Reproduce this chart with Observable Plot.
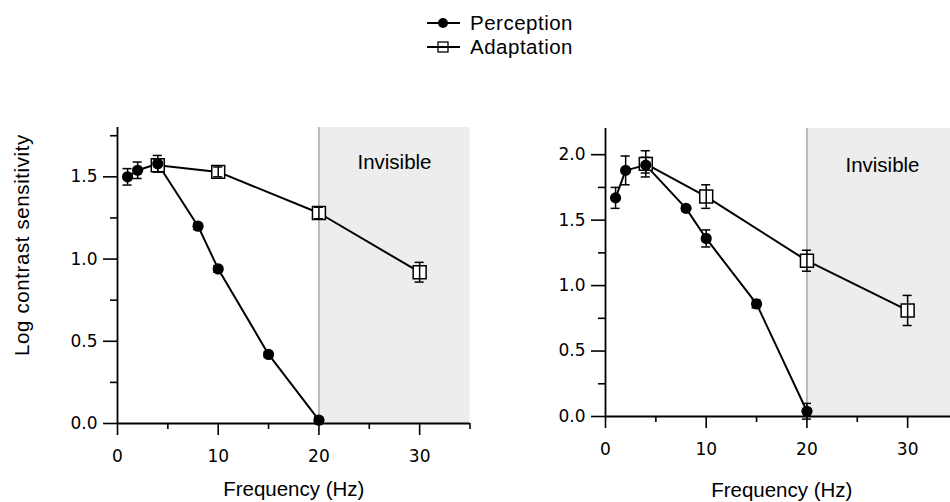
<!DOCTYPE html>
<html><head><meta charset="utf-8">
<script src="https://cdn.jsdelivr.net/npm/d3@7"></script>
<script src="https://cdn.jsdelivr.net/npm/@observablehq/plot@0.6"></script>
<style>
body{margin:0;background:#fff;}
#wrap{position:relative;width:950px;height:502px;overflow:hidden;background:#fff;font-family:"Liberation Sans",Arial,sans-serif;color:#000;}
#left{position:absolute;left:0;top:0;width:475px;}
#right{position:absolute;left:475px;top:0;width:490px;}
#wrap svg{max-width:none !important;}
#legend{position:absolute;left:0;top:0;}
#ylab{position:absolute;left:22px;top:245px;transform:translate(-50%,-50%) rotate(-90deg);white-space:nowrap;font-size:20.5px;letter-spacing:0.6px;}
</style></head>
<body><div id="wrap"><div id="left"></div><div id="right"></div><svg id="legend" width="950" height="70"></svg><div id="ylab">Log contrast sensitivity</div></div>
<script>
// ---- data ----
const seriesNames = ["Perception", "Adaptation"];
const freqP = [1, 2, 4, 8, 10, 15, 20];
const freqA = [4, 10, 20, 30];
const leftP    = [1.50, 1.54, 1.58, 1.20, 0.94, 0.42, 0.02];
const leftPErr = [0.05, 0.05, 0.05, 0.02, 0.02, 0.015, 0.02];
const leftA    = [1.57, 1.53, 1.28, 0.92];
const leftAErr = [0.04, 0.03, 0.035, 0.06];
const rightP    = [1.67, 1.88, 1.92, 1.59, 1.36, 0.86, 0.04];
const rightPErr = [0.08, 0.11, 0.06, 0.02, 0.065, 0.03, 0.06];
const rightA    = [1.93, 1.68, 1.19, 0.81];
const rightAErr = [0.10, 0.09, 0.08, 0.115];
const xMajor = [0, 10, 20, 30];
const xMinor = [5, 15, 25, 35];
const leftYMajor = [0, 0.5, 1.0, 1.5];
const leftYMinor = [0.25, 0.75, 1.25, 1.75];
const rightYMajor = [0, 0.5, 1.0, 1.5, 2.0];
const rightYMinor = [0.25, 0.75, 1.25, 1.75];
const shadeRegion = [{label: "Invisible", x1: 20, x2: 35}];
const xLabel = "Frequency (Hz)";

const capHalf = 0.45;
const TXT = "Liberation Sans";

function panel(o) {
  const perc = freqP.map((f, i) => ({f, v: o.P[i], e: o.PErr[i]}));
  const adap = freqA.map((f, i) => ({f, v: o.A[i], e: o.AErr[i]}));
  const bars = (data) => [
    Plot.ruleX(data, {x: "f", y1: d => d.v - d.e, y2: d => d.v + d.e, stroke: "#000", strokeWidth: 1.5}),
    Plot.ruleY(data, {y: d => d.v - d.e, x1: d => d.f - capHalf, x2: d => d.f + capHalf, stroke: "#000", strokeWidth: 1.5}),
    Plot.ruleY(data, {y: d => d.v + d.e, x1: d => d.f - capHalf, x2: d => d.f + capHalf, stroke: "#000", strokeWidth: 1.5})
  ];
  return Plot.plot({
    width: o.width, height: 502,
    marginLeft: o.ml, marginRight: o.mr, marginTop: o.mt, marginBottom: o.mb,
    x: {domain: [0, 35]},
    y: {domain: [0, o.yTop]},
    style: {background: "transparent", fontFamily: "DejaVu Sans", fontSize: "17px", color: "#000", overflow: "visible", maxWidth: "none"},
    marks: [
      Plot.rect(shadeRegion, {x1: "x1", x2: "x2", y1: 0, y2: o.yTop, fill: "#ededed"}),
      Plot.ruleX(shadeRegion, {x: "x1", y1: 0, y2: o.yTop, stroke: "#a8a8a8", strokeWidth: 1.5}),
      Plot.text(shadeRegion, {x: d => (d.x1 + d.x2) / 2, text: "label", frameAnchor: "top", lineAnchor: "middle", dy: o.invDy, fontFamily: TXT, fontSize: 20.5, letterSpacing: 0.7}),
      Plot.ruleX([0], {y1: 0, y2: o.yTop, stroke: "#000", strokeWidth: 1.8}),
      Plot.ruleY([0], {x1: 0, x2: 35, stroke: "#000", strokeWidth: 1.8}),
      Plot.axisX({ticks: xMajor, tickSize: 12, tickPadding: 14, strokeWidth: 1.6, label: null, fontSize: 17}),
      Plot.axisX({ticks: xMinor, tickSize: 6, tickFormat: () => "", strokeWidth: 1.6, label: null}),
      Plot.axisY({ticks: o.yMajor, tickSize: 14, tickPadding: 6, tickFormat: d3.format(".1f"), strokeWidth: 1.6, label: null, fontSize: 17}),
      Plot.axisY({ticks: o.yMinor, tickSize: 7, tickFormat: () => "", strokeWidth: 1.6, label: null}),
      Plot.text([xLabel], {text: d => d, frameAnchor: "bottom", lineAnchor: "middle", dy: o.labDy, fontFamily: TXT, fontSize: 20.5, letterSpacing: 0.9}),
      Plot.line(adap, {x: "f", y: "v", stroke: "#000", strokeWidth: 2}),
      Plot.line(perc, {x: "f", y: "v", stroke: "#000", strokeWidth: 2}),
      Plot.dot(adap, {x: "f", y: "v", symbol: "square", r: 7.3, fill: "#fff", stroke: "#000", strokeWidth: 1.5}),
      ...bars(adap),
      ...bars(perc),
      Plot.dot(perc, {x: "f", y: "v", r: 5.6, fill: "#000"})
    ]
  });
}

document.getElementById("left").append(panel({
  P: leftP, PErr: leftPErr, A: leftA, AErr: leftAErr, yTop: 1.8,
  yMajor: leftYMajor, yMinor: leftYMinor,
  width: 475, ml: 117, mr: 5.5, mt: 127, mb: 79, invDy: 35, labDy: 66
}));
document.getElementById("right").append(panel({
  P: rightP, PErr: rightPErr, A: rightA, AErr: rightAErr, yTop: 2.2,
  yMajor: rightYMajor, yMinor: rightYMinor,
  width: 490, ml: 130, mr: 7.5, mt: 128, mb: 86, invDy: 37, labDy: 74
}));

// legend
const lg = d3.select("#legend");
seriesNames.forEach((name, i) => {
  const cy = 23 + i * 24;
  lg.append("line").attr("x1", 427).attr("x2", 460).attr("y1", cy).attr("y2", cy).attr("stroke", "#000").attr("stroke-width", 2);
  if (i === 0) lg.append("circle").attr("cx", 443).attr("cy", cy).attr("r", 5).attr("fill", "#000");
  else lg.append("rect").attr("x", 438).attr("y", cy - 5).attr("width", 10).attr("height", 10).attr("fill", "none").attr("stroke", "#000").attr("stroke-width", 1.3);
  lg.append("text").attr("x", 470).attr("y", cy).attr("dy", "0.35em").attr("font-family", TXT).attr("font-size", 20.5).attr("letter-spacing", 0.5).text(name);
});
</script>
</body></html>
